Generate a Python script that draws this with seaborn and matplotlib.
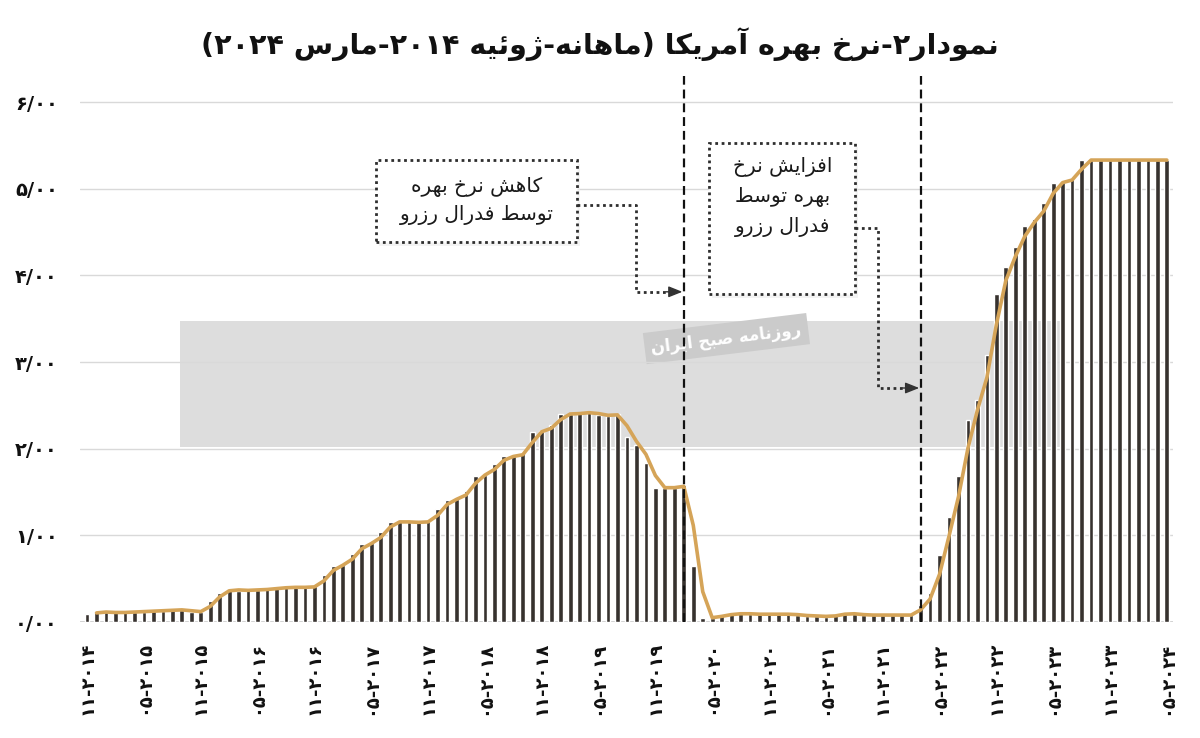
import re
import numpy as np
import pandas as pd
import matplotlib
matplotlib.use("Agg")
import matplotlib.pyplot as plt
import seaborn as sns
from matplotlib.patches import Rectangle

# ---------------- data ----------------
months = list(pd.period_range("2014-11", "2024-05", freq="M").astype(str))
rate = [
    0.09, 0.12,
    0.11, 0.11, 0.11, 0.12, 0.12, 0.13, 0.13, 0.14, 0.14, 0.12, 0.12, 0.24,
    0.34, 0.38, 0.36, 0.37, 0.37, 0.38, 0.39, 0.40, 0.40, 0.40, 0.41, 0.54,
    0.65, 0.66, 0.79, 0.90, 0.91, 1.04, 1.15, 1.16, 1.15, 1.15, 1.16, 1.30,
    1.41, 1.42, 1.51, 1.69, 1.70, 1.82, 1.91, 1.91, 1.95, 2.19, 2.20, 2.27,
    2.40, 2.40, 2.41, 2.42, 2.39, 2.38, 2.40, 2.13, 2.04, 1.83, 1.55, 1.55,
    1.55, 1.58, 0.65, 0.05, 0.05, 0.08, 0.09, 0.10, 0.09, 0.09, 0.09, 0.09,
    0.09, 0.08, 0.07, 0.07, 0.06, 0.08, 0.10, 0.09, 0.08, 0.08, 0.08, 0.08,
    0.08, 0.08, 0.20, 0.33, 0.77, 1.21, 1.68, 2.33, 2.56, 3.08, 3.78, 4.10,
    4.33, 4.57, 4.65, 4.83, 5.06, 5.08, 5.12, 5.33, 5.33, 5.33, 5.33, 5.33,
    5.33, 5.33, 5.33, 5.33, 5.33,
]
xtick_labels = ["۱۱-۲۰۱۴", "۰۵-۲۰۱۵", "۱۱-۲۰۱۵", "۰۵-۲۰۱۶", "۱۱-۲۰۱۶",
                "۰۵-۲۰۱۷", "۱۱-۲۰۱۷", "۰۵-۲۰۱۸", "۱۱-۲۰۱۸", "۰۵-۲۰۱۹",
                "۱۱-۲۰۱۹", "۰۵-۲۰۲۰", "۱۱-۲۰۲۰", "۰۵-۲۰۲۱", "۱۱-۲۰۲۱",
                "۰۵-۲۰۲۲", "۱۱-۲۰۲۲", "۰۵-۲۰۲۳", "۱۱-۲۰۲۳", "۰۵-۲۰۲۴"]
ytick_labels = ["۰/۰۰", "۱/۰۰", "۲/۰۰", "۳/۰۰", "۴/۰۰", "۵/۰۰", "۶/۰۰"]
cut_month = "2020-02"     # start of rate cuts
hike_month = "2022-03"    # start of rate hikes
title_text = "نمودار۲-نرخ بهره آمریکا (ماهانه-ژوئیه ۲۰۱۴-مارس ۲۰۲۴)"
note_cut = ["کاهش نرخ بهره", "توسط فدرال رزرو"]
note_hike = ["افزایش نرخ", "بهره توسط", "فدرال رزرو"]
watermark = "روزنامه صبح ایران"

# ---------------- Persian shaping (no shaping engine in matplotlib) ----------------
FORMS = {
    "\u0627": ("\uFE8D", "\uFE8E", None, None),
    "\u0622": ("\uFE81", "\uFE82", None, None),
    "\u0628": ("\uFE8F", "\uFE90", "\uFE91", "\uFE92"),
    "\u067E": ("\uFB56", "\uFB57", "\uFB58", "\uFB59"),
    "\u062A": ("\uFE95", "\uFE96", "\uFE97", "\uFE98"),
    "\u062D": ("\uFEA1", "\uFEA2", "\uFEA3", "\uFEA4"),
    "\u062E": ("\uFEA5", "\uFEA6", "\uFEA7", "\uFEA8"),
    "\u062F": ("\uFEA9", "\uFEAA", None, None),
    "\u0631": ("\uFEAD", "\uFEAE", None, None),
    "\u0632": ("\uFEAF", "\uFEB0", None, None),
    "\u0698": ("\uFB8A", "\uFB8B", None, None),
    "\u0633": ("\uFEB1", "\uFEB2", "\uFEB3", "\uFEB4"),
    "\u0634": ("\uFEB5", "\uFEB6", "\uFEB7", "\uFEB8"),
    "\u0635": ("\uFEB9", "\uFEBA", "\uFEBB", "\uFEBC"),
    "\u0637": ("\uFEC1", "\uFEC2", "\uFEC3", "\uFEC4"),
    "\u0641": ("\uFED1", "\uFED2", "\uFED3", "\uFED4"),
    "\u0644": ("\uFEDD", "\uFEDE", "\uFEDF", "\uFEE0"),
    "\u0645": ("\uFEE1", "\uFEE2", "\uFEE3", "\uFEE4"),
    "\u0646": ("\uFEE5", "\uFEE6", "\uFEE7", "\uFEE8"),
    "\u0647": ("\uFEE9", "\uFEEA", "\uFEEB", "\uFEEC"),
    "\u0648": ("\uFEED", "\uFEEE", None, None),
    "\u0626": ("\uFE89", "\uFE8A", "\uFE8B", "\uFE8C"),
    "\u06CC": ("\uFBFC", "\uFBFD", "\uFBFE", "\uFBFF"),
    "\u06A9": ("\uFB8E", "\uFB8F", "\uFB90", "\uFB91"),
}


def reshape(s):
    out, i, n = [], 0, len(s)
    while i < n:
        c = s[i]
        if c not in FORMS:
            out.append(c)
            i += 1
            continue
        prev = s[i - 1] if i > 0 else None
        nxt = s[i + 1] if i + 1 < n else None
        pj = prev in FORMS and FORMS[prev][2] is not None
        if c == "\u0644" and nxt in ("\u0627", "\u0622"):
            lig = {"\u0627": ("\uFEFB", "\uFEFC"), "\u0622": ("\uFEF5", "\uFEF6")}[nxt]
            out.append(lig[1] if pj else lig[0])
            i += 2
            continue
        nj = nxt in FORMS
        f = FORMS[c]
        if f[2] is None:
            out.append(f[1] if pj else f[0])
        elif pj and nj:
            out.append(f[3])
        elif pj:
            out.append(f[1])
        elif nj:
            out.append(f[2])
        else:
            out.append(f[0])
        i += 1
    return "".join(out)


def fa(s):
    v = reshape(s)[::-1]
    v = re.sub(r"[0-9\u06F0-\u06F9]+", lambda m: m.group(0)[::-1], v)
    return v.translate(str.maketrans("()", ")("))


# ---------------- style ----------------
BAR = "#37322f"
LINE = "#d5a458"
FAM = ["DejaVu Sans"]
sns.set_theme(style="white")
plt.rcParams["font.family"] = FAM

n = len(rate)
df = pd.DataFrame({"month": months, "pos": np.arange(n), "rate": rate})
df["trend"] = df["rate"].rolling(2).mean()   # 2-period moving-average trendline
pos_of = {m: p for m, p in zip(months, range(n))}

fig = plt.figure(figsize=(12, 7.38), dpi=100)
ax = fig.add_axes([80 / 1200, 116 / 738, (1173 - 80) / 1200, (622 - 76) / 738])

# watermark band
ax.add_patch(Rectangle((9.8, 2.02), 93.2, 1.45, facecolor="#dddddd",
                       edgecolor="none", zorder=0.3))

sns.barplot(data=df, x="pos", y="rate", native_scale=True, color=BAR,
            saturation=1, width=0.5, ax=ax, zorder=3)
sns.lineplot(data=df.dropna(), x="pos", y="trend", color=LINE, lw=2.6,
             ax=ax, zorder=4)

ax.set_xlim(-0.75, 114.65)
ax.set_ylim(0, 6.3)
ax.set_yticks(range(7))
ax.set_yticklabels(ytick_labels, fontsize=14, fontweight="bold", color="#111")
ax.set_xticks(list(range(0, n, 6)))
ax.set_xticklabels(xtick_labels, rotation=90, fontsize=13, fontweight="bold",
                   color="#111")
ax.tick_params(axis="both", length=0)
ax.tick_params(axis="y", pad=16)
ax.tick_params(axis="x", pad=14)
ax.set_xlabel("")
ax.set_ylabel("")
ax.grid(axis="y", color="#d9d9d9", lw=1)
ax.grid(axis="x", visible=False)
ax.set_axisbelow(True)
for sp in ax.spines.values():
    sp.set_visible(False)
ax.axhline(0, color="#cfcfcf", lw=2, zorder=2)

# event lines
for m in (cut_month, hike_month):
    ax.axvline(pos_of[m], color="#111111", lw=1.6, ls=(0, (4, 2.2)), zorder=6)

# watermark tag
ax.text(67.5, 3.27, fa(watermark), rotation=7, ha="center", va="center",
        fontsize=12, fontweight="bold", color="white", zorder=0.5,
        bbox=dict(boxstyle="square,pad=0.4", facecolor="#cbcbcb", edgecolor="none"))

# annotation boxes
dot = dict(color="#2e2e2e", lw=2.0, ls=(0, (1, 1.3)))


def note_box(x0, y0, w, h, lines, cx, ys, path_x, path_y, tip):
    ax.add_patch(Rectangle((x0 + 0.3, y0 - 0.05), w, h, facecolor="#eeeeee",
                           edgecolor="none", zorder=6.5, alpha=0.7))
    ax.add_patch(Rectangle((x0, y0), w, h, facecolor="white", edgecolor=dot["color"],
                           lw=dot["lw"], ls=dot["ls"], zorder=7))
    for t, y in zip(lines, ys):
        ax.text(cx, y, fa(t), ha="center", va="center", fontsize=14.5,
                color="#1a1a1a", zorder=8)
    ax.plot(path_x, path_y, zorder=7, **dot)
    ax.annotate("", xy=(tip, path_y[-1]), xytext=(path_x[-1] - 0.5, path_y[-1]),
                arrowprops=dict(arrowstyle="-|>,head_length=0.7,head_width=0.28",
                                color="#333333", lw=1.0, shrinkA=0, shrinkB=0),
                zorder=8)


c = pos_of[cut_month]
h = pos_of[hike_month]
note_box(c - 32.5, 4.385, 21.2, 0.945, note_cut, c - 21.9, [5.02, 4.70],
         [c - 11.3, c - 5.0, c - 5.0, c - 1.4], [4.81, 4.81, 3.81, 3.81], c - 0.15)
note_box(h - 22.3, 3.785, 15.4, 1.742, note_hike, h - 14.6, [5.25, 4.90, 4.56],
         [h - 6.9, h - 4.5, h - 4.5, h - 1.4], [4.546, 4.546, 2.70, 2.70], h - 0.15)

fig.text(0.5, 1 - 44 / 738, fa(title_text), ha="center", va="center",
         fontsize=20.5, fontweight="bold", color="#111")

fig.savefig("out.png", dpi=100)
